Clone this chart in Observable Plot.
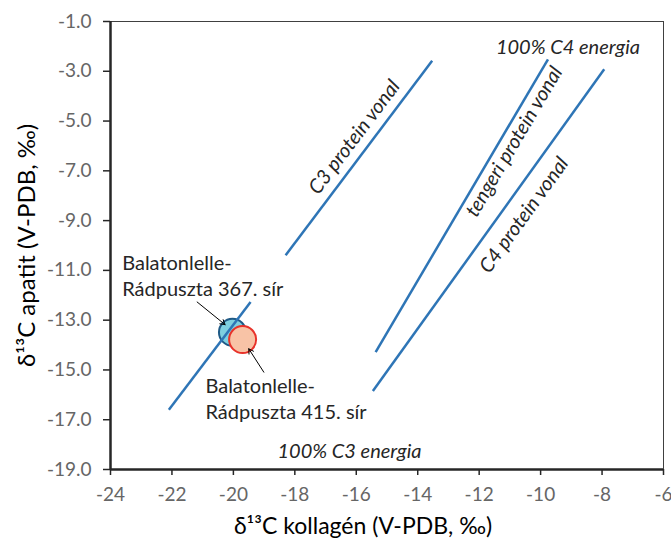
<!DOCTYPE html>
<html>
<head>
<meta charset="utf-8">
<script src="https://cdn.jsdelivr.net/npm/d3@7"></script>
<script src="https://cdn.jsdelivr.net/npm/@observablehq/plot@0.6"></script>
<style>
  body { margin: 0; background: #fff; }
  svg { font-family: Lato, "Open Sans", sans-serif; }
</style>
</head>
<body>
<div id="chart"></div>
<script>
// Axis ticks
const xTicks = [-24, -22, -20, -18, -16, -14, -12, -10, -8, -6];
const yTicks = [-1, -3, -5, -7, -9, -11, -13, -15, -17, -19];
const xTitle = "δ¹³C kollagén (V-PDB, ‰)";
const yTitle = "δ¹³C apatit (V-PDB, ‰)";

// Reference lines (segments; C3 line interrupted behind the label)
const proteinLines = [
  {name: "C3 protein vonal", x1: -22.10, y1: -16.60, x2: -19.44, y2: -12.27},
  {name: "C3 protein vonal", x1: -18.30, y1: -10.39, x2: -13.53, y2: -2.58},
  {name: "tengeri protein vonal", x1: -15.37, y1: -14.28, x2: -9.76, y2: -2.52},
  {name: "C4 protein vonal", x1: -15.46, y1: -15.85, x2: -7.93, y2: -2.92}
];

// Line labels
const lineLabels = [
  {text: "C3 protein vonal", x: -16.06, y: -5.65, angle: -52.9},
  {text: "tengeri protein vonal", x: -10.86, y: -5.83, angle: -59.5},
  {text: "C4 protein vonal", x: -10.54, y: -8.78, angle: -54.2}
];
const energyLabels = [
  {text: "100% C4 energia", x: -9.11, y: -2.03},
  {text: "100% C3 energia", x: -16.22, y: -18.28}
];

// Samples
const sample367 = [{name: "Balatonlelle-Rádpuszta 367. sír", x: -20.03, y: -13.49}];
const sample415 = [{name: "Balatonlelle-Rádpuszta 415. sír", x: -19.70, y: -13.78}];

// Annotations
const annotations = [
  {text: "Balatonlelle-\nRádpuszta 367. sír", x: -23.62, y: -11.16},
  {text: "Balatonlelle-\nRádpuszta 415. sír", x: -20.91, y: -16.12}
];
const arrows = [
  {x1: -21.18, y1: -12.27, x2: -20.27, y2: -13.18},
  {x1: -19.01, y1: -15.09, x2: -19.50, y2: -14.15}
];

const chart = Plot.plot({
  width: 671,
  height: 540,
  marginLeft: 110,
  marginRight: 8,
  marginTop: 21,
  marginBottom: 71,
  x: {domain: [-24, -6]},
  y: {domain: [-19, -1]},
  marks: [
    Plot.ruleY([-1], {stroke: "#404040", strokeWidth: 1}),
    Plot.ruleX([-6], {stroke: "#404040", strokeWidth: 1}),
    Plot.axisY({ticks: yTicks, tickFormat: d => d.toFixed(1), tickSize: 7, tickPadding: 12,
      stroke: "#262626", strokeWidth: 1.5, fill: "#666666", fontSize: 19, label: null}),
    Plot.axisX({ticks: xTicks, tickFormat: d => String(d), tickSize: 6, tickPadding: 12,
      stroke: "#262626", strokeWidth: 1.5, fill: "#666666", fontSize: 19, label: null}),
    Plot.text([yTitle], {frameAnchor: "left", textAnchor: "middle", lineAnchor: "middle", rotate: -90, dx: -83, fontSize: 24, fill: "#000"}),
    Plot.text([xTitle], {frameAnchor: "bottom", textAnchor: "middle", lineAnchor: "middle", dx: -24, dy: 57, fontSize: 23, fill: "#000"}),
    Plot.dot(sample367, {x: "x", y: "y", r: 13.5, fill: "#7ecfe0", stroke: "#1f5a86", strokeWidth: 2}),
    Plot.link(proteinLines, {x1: "x1", y1: "y1", x2: "x2", y2: "y2", stroke: "#2e75b6", strokeWidth: 2.5}),
    Plot.dot(sample415, {x: "x", y: "y", r: 13.5, fill: "#f8c3a6", stroke: "#e8322a", strokeWidth: 2}),
    Plot.text(lineLabels, {x: "x", y: "y", text: "text", rotate: "angle", fontSize: 20, fontStyle: "italic", fill: "#262626"}),
    Plot.text(energyLabels, {x: "x", y: "y", text: "text", fontSize: 20, fontStyle: "italic", fill: "#262626"}),
    Plot.text(annotations, {x: "x", y: "y", text: "text", textAnchor: "start", fontSize: 20, lineHeight: 1.3, fill: "#262626"}),
    Plot.arrow(arrows, {x1: "x1", y1: "y1", x2: "x2", y2: "y2", stroke: "#000", strokeWidth: 1, headLength: 8}),
    Plot.ruleX([-24], {stroke: "#262626", strokeWidth: 2.5}),
    Plot.ruleY([-19], {stroke: "#262626", strokeWidth: 2.5})
  ]
});
document.getElementById("chart").appendChild(chart);
</script>
</body>
</html>
